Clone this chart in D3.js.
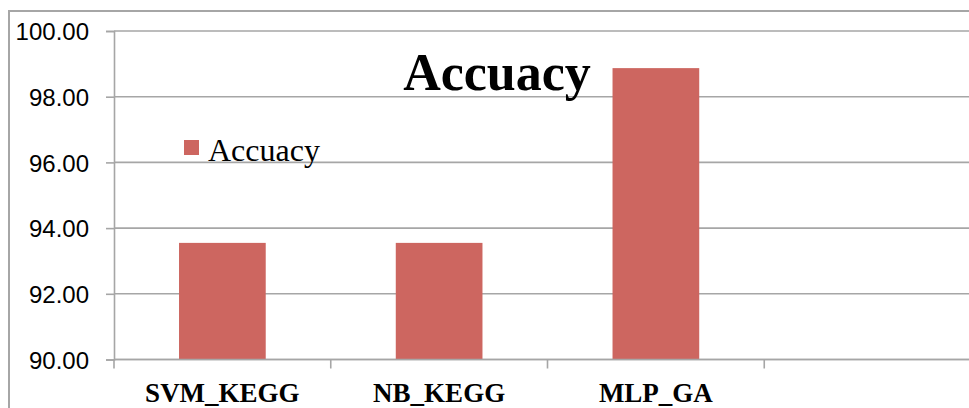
<!DOCTYPE html>
<html><head><meta charset="utf-8">
<script src="https://cdn.jsdelivr.net/npm/d3@7"></script>
<style>body{margin:0;background:#fff;}svg{display:block;}</style>
</head><body>
<script>
const categories = ["SVM_KEGG", "NB_KEGG", "MLP_GA", ""];
const accuracy = [93.55, 93.55, 98.87, null];
const yTicks = [90, 92, 94, 96, 98, 100];
const seriesName = "Accuacy";
const titleText = "Accuacy";

const W = 969, H = 408;
const svg = d3.select("body").append("svg").attr("width", W).attr("height", H);
const grid = "#a6a6a6";

// outer chart border
svg.append("rect").attr("x", 9).attr("y", 11).attr("width", W + 20).attr("height", H + 20)
  .attr("fill", "#fff").attr("stroke", grid).attr("stroke-width", 2);

const x = d3.scaleBand().domain(categories.map((d, i) => i)).range([114, 981]).paddingInner(0).paddingOuter(0);
const y = d3.scaleLinear().domain([90, 100]).range([359.5, 31]);

// gridlines
svg.append("g").selectAll("line").data(yTicks).join("line")
  .attr("x1", 114).attr("x2", W).attr("y1", d => y(d)).attr("y2", d => y(d))
  .attr("stroke", grid).attr("stroke-width", 1.6);

// y axis
const yAxis = svg.append("g").attr("transform", "translate(114,0)")
  .call(d3.axisLeft(y).tickValues(yTicks).tickFormat(d3.format(".2f")).tickSize(8).tickPadding(17));
yAxis.select(".domain").attr("stroke", grid).attr("stroke-width", 1.6);
yAxis.selectAll(".tick line").attr("stroke", grid).attr("stroke-width", 1.6);
yAxis.selectAll(".tick text").attr("font-family", "'Liberation Sans', Arial, sans-serif")
  .attr("font-size", 24).attr("fill", "#000").attr("dy", "0.36em");

// bars
const bw = x.bandwidth() * 0.4;
svg.append("g").selectAll("rect").data(accuracy.map((v, i) => ({v, i})).filter(d => d.v != null)).join("rect")
  .attr("x", d => x(d.i) + (x.bandwidth() - bw) / 2)
  .attr("y", d => y(d.v))
  .attr("width", bw)
  .attr("height", d => y(90) - y(d.v))
  .attr("fill", "#cd6660");

// x axis
const xAxisG = svg.append("g").attr("transform", `translate(0,${y(90)})`);
xAxisG.append("line").attr("x1", 114).attr("x2", W).attr("stroke", grid).attr("stroke-width", 1.6);
const bounds = categories.map((d, i) => x(i)).concat([x(categories.length - 1) + x.bandwidth()]);
xAxisG.selectAll("line.tk").data(bounds).join("line").attr("class", "tk")
  .attr("x1", d => d).attr("x2", d => d).attr("y1", 0).attr("y2", 9)
  .attr("stroke", grid).attr("stroke-width", 1.6);
xAxisG.selectAll("text").data(categories).join("text")
  .attr("x", (d, i) => x(i) + x.bandwidth() / 2).attr("y", 42)
  .attr("text-anchor", "middle")
  .attr("font-family", "'Liberation Serif', 'Times New Roman', serif")
  .attr("font-weight", "bold").attr("font-size", 27).attr("fill", "#000")
  .text(d => d);

// title
svg.append("text").attr("x", 497).attr("y", 90).attr("text-anchor", "middle")
  .attr("font-family", "'Liberation Serif', 'Times New Roman', serif")
  .attr("font-weight", "bold").attr("font-size", 52).attr("fill", "#000")
  .text(titleText);

// legend
svg.append("rect").attr("x", 184).attr("y", 140).attr("width", 15).attr("height", 15).attr("fill", "#cd6660");
svg.append("text").attr("x", 208).attr("y", 161)
  .attr("font-family", "'Liberation Serif', 'Times New Roman', serif")
  .attr("font-size", 32).attr("fill", "#000").text(seriesName);
</script>
</body></html>
